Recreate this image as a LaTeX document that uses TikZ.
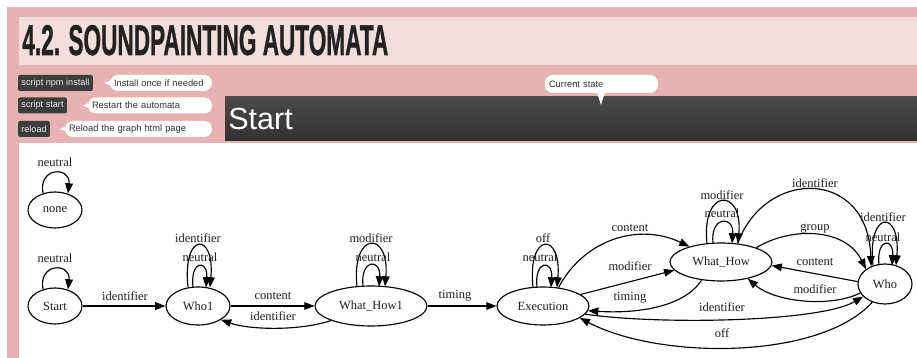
\documentclass[tikz,border=0pt]{standalone}
\usepackage{fontspec}
\usepackage{graphicx}
\usetikzlibrary{arrows.meta,shapes.geometric,calc}
\newfontfamily\uifont{Liberation Sans}
\newfontfamily\dotfont{Liberation Serif}
\newfontfamily\titlefont[BoldFeatures={FakeBold=1.2}]{Liberation Sans}
\definecolor{pagepink}{HTML}{E6B2B2}
\definecolor{titlepink}{HTML}{F3DDDD}
\definecolor{btndark}{HTML}{3D3D3D}
\definecolor{bartop}{HTML}{4A4A4A}
\definecolor{barbot}{HTML}{323232}
\definecolor{inkgray}{HTML}{222222}

\tikzset{
  state/.style={ellipse, draw, line width=0.65pt, inner sep=0pt, text=black!88,
    font=\dotfont\fontsize{7.1}{8}\selectfont},
  lbl/.style={inner sep=0pt, text=black!88, font=\dotfont\fontsize{7.1}{8}\selectfont},
  tr/.style={line width=0.65pt, -{Triangle[length=5.8pt,width=4.4pt]}},
  btn/.style={fill=btndark, rounded corners=1.2pt, text=white!92!black, inner sep=0pt,
    minimum height=0.32cm, font=\uifont\fontsize{5.2}{6}\selectfont},
  hint/.style={fill=white, rounded corners=4.4pt, inner ysep=0pt, inner xsep=0.08cm,
    align=left, minimum height=0.32cm, text=black!80, font=\uifont\fontsize{5.3}{6}\selectfont}
}

\begin{document}
\begin{tikzpicture}[x=0.02cm, y=0.02cm]
  \useasboundingbox (0,0) rectangle (917,358);

  % page
  \fill[white] (0,0) rectangle (917,358);
  \fill[pagepink] (7,0) rectangle (917,351);
  \fill[titlepink] (19,293) rectangle (917,341);
  \node[anchor=base west, inner sep=0pt, text=inkgray] (title) at (22,303)
    {\resizebox{7.32cm}{0.6cm}{\titlefont\bfseries 4.2. SOUNDPAINTING AUTOMATA}};

  % buttons with their hints
  \foreach \i/\y/\bx/\bw/\btxt/\hx/\hw/\htxt in {
      1/275/55.5/1.50/script npm install/161/1.88/Install once if needed,
      2/252.5/42.5/0.98/script start/150/2.32/Restart the automata,
      3/229/34/0.64/reload/138.5/2.78/Reload the graph html page}
  {
    \node[btn, minimum width=\bw cm] (btn\i) at (\bx,\y) {\btxt};
    \node[hint, text width=\hw cm] (hint\i) at (\hx,\y) {\htxt};
    \fill[white] (hint\i.west) ++(1,2.5) -- ++(-6,-2.5) -- ++(6,-2.5) -- cycle;
  }

  % current state bar
  \shade[top color=bartop, bottom color=barbot] (225,217) rectangle (917,261);
  \node[anchor=base west, inner sep=0pt, text=white,
    font=\uifont\fontsize{17.4}{20}\selectfont] (curstate) at (228,228) {Start};
  \node[hint, text width=2.1cm, minimum height=0.36cm] (curhint) at (601.5,274) {Current state};
  \fill[white] (597,266) -- (601,253) -- (605,266) -- cycle;

  % graph area
  \fill[white] (19,0) rectangle (917,215);

  \node[state, minimum width=1.08cm, minimum height=0.72cm] (none) at (55,148) {none};
  \node[state, minimum width=1.08cm, minimum height=0.72cm] (start) at (55,52) {Start};
  \node[state, minimum width=1.28cm, minimum height=0.76cm] (who1) at (198,52) {Who1};
  \node[state, minimum width=2.24cm, minimum height=0.80cm] (wh1) at (371,52) {What\_How1};
  \node[state, minimum width=1.84cm, minimum height=0.76cm] (exe) at (543,52) {Execution};
  \node[state, minimum width=2.04cm, minimum height=0.76cm] (wh) at (721,96) {What\_How};
  \node[state, minimum width=1.08cm, minimum height=0.80cm] (who) at (885,74) {Who};

  % self loops
  \foreach \s in {none, start}
    \draw[tr] ($(\s.north)+(-12,-2)$) .. controls +(-5,27) and +(3,27) .. ($(\s.north)+(13,-2)$);
  \foreach \s/\ola/\olb/\ila/\ilb/\dr in {who1/10/12/5/8/1, wh1/14/14/8/8/1,
      exe/10/14/6/8/1, wh/14/17/8/11/1, who/12/11/6/7/2}
  {
    \draw[tr] ($(\s.north)+(-\ola,-\dr)$) .. controls +(-6,56) and +(5,56) .. ($(\s.north)+(\olb,-\dr)$);
    \draw[tr] ($(\s.north)+(-\ila,-\dr)$) .. controls +(-3,28) and +(2,28) .. ($(\s.north)+(\ilb,-\dr)$);
  }

  % transitions
  \draw[tr] (start) -- (who1);
  \draw[tr] (who1) -- (wh1);
  \draw[tr] (wh1.south west) .. controls (300,27) and (250,28) .. (who1.south east);
  \draw[tr] (wh1) -- (exe);
  \draw[tr] (exe.50) .. controls (585,120) and (640,135) .. (wh.154);
  \draw[tr] (exe.17) -- (wh.190);
  \draw[tr] (wh.223) .. controls (685,52) and (640,44) .. (exe.-6);
  \draw[tr] (exe.-11) .. controls (660,33) and (820,36) .. (who.210);
  \draw[tr] (who.235) .. controls (820,-2) and (660,-2) .. (exe.-18);
  \draw[tr] (wh.48) .. controls (765,190) and (868,190) .. (who.128);
  \draw[tr] (wh.22) .. controls (790,131) and (845,131) .. (who.142);
  \draw[tr] (who.175) -- (wh.-4);
  \draw[tr] (who.200) .. controls (830,50) and (775,56) .. (wh.-32);

  % labels
  \foreach \i/\x/\y/\txt in {1/55/196/neutral, 2/55/100/neutral, 3/125/62/identifier,
      4/198/120/identifier, 5/200/101/neutral, 6/273/62/content, 7/273/42/identifier,
      8/371/120/modifier, 9/373/101/neutral, 10/455/62/timing, 11/543/120/off,
      12/540/101/neutral, 13/630/130/content, 14/630/92/modifier, 15/630/60/timing,
      16/722/51/identifier, 17/722/25/off, 18/722/163/modifier, 19/722/145/neutral,
      20/815/175/identifier, 21/815/129/group, 22/815/96/content, 23/815/69/modifier,
      24/883/141/identifier, 25/883/121/neutral}
    \node[lbl] (lab\i) at (\x,\y) {\txt};
\end{tikzpicture}
\end{document}
